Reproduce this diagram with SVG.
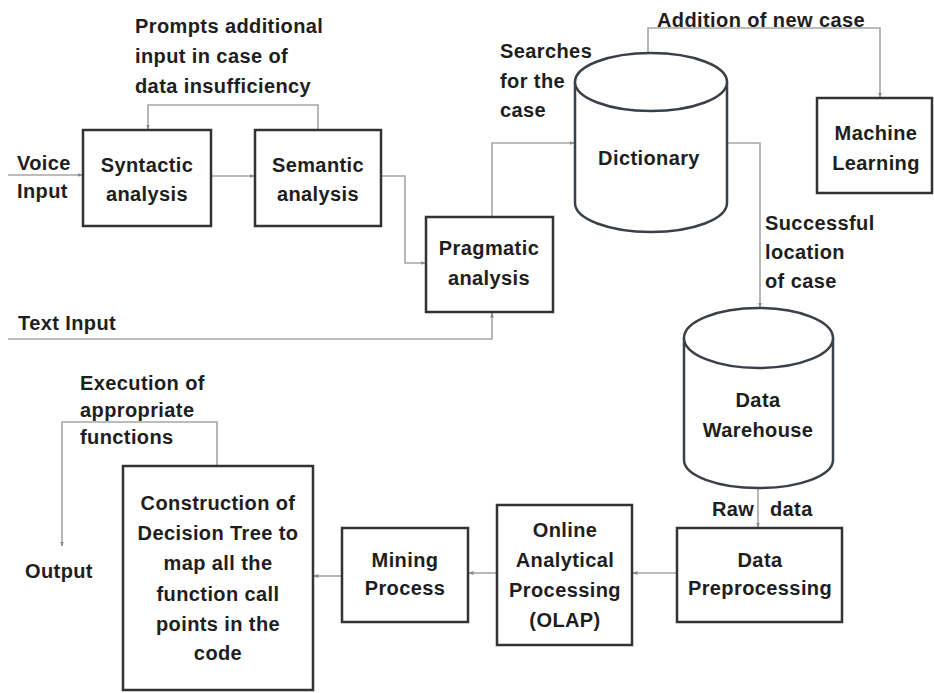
<svg xmlns="http://www.w3.org/2000/svg" width="934" height="693" viewBox="0 0 934 693">
<style>
text{font-family:"Liberation Sans",Arial,sans-serif;font-size:20px;font-weight:bold;fill:#1e1e1e;letter-spacing:0.4px}
.c{text-anchor:middle}
.box{fill:#fff;stroke:#333;stroke-width:2.5}
.cyl{fill:#fff;stroke:#3a3f48;stroke-width:2.5}
.con{fill:none;stroke:#a6a6a6;stroke-width:1.6}
</style>
<defs>
<marker id="ah" viewBox="0 0 10 10" refX="9" refY="5" markerWidth="5" markerHeight="5" orient="auto" markerUnits="userSpaceOnUse">
<path d="M0,1 L10,5 L0,9 z" fill="#8a8a8a"/>
</marker>
</defs>
<rect width="934" height="693" fill="#fff"/>
<g id="connectors">
<path class="con" d="M8,175 H82" marker-end="url(#ah)"/>
<path class="con" d="M211,176 H254" marker-end="url(#ah)"/>
<path class="con" d="M381,176 H405 V263 H425" marker-end="url(#ah)"/>
<path class="con" d="M318,130 V105 H148 V129" marker-end="url(#ah)"/>
<path class="con" d="M8,339 H492 V313" marker-end="url(#ah)"/>
<path class="con" d="M492,217 V143 H574" marker-end="url(#ah)"/>
<path class="con" d="M648,53 V28 H880 V97" marker-end="url(#ah)"/>
<path class="con" d="M727,143 H760 V307" marker-end="url(#ah)"/>
<path class="con" d="M758,488 V527" marker-end="url(#ah)"/>
<path class="con" d="M677,573 H633" marker-end="url(#ah)"/>
<path class="con" d="M497,573 H469" marker-end="url(#ah)"/>
<path class="con" d="M342,576 H314" marker-end="url(#ah)"/>
<path class="con" d="M217,466 V422 H62 V546" marker-end="url(#ah)"/>
</g>
<g id="labels">
<text x="135" y="33">Prompts additional</text>
<text x="135" y="63">input in case of</text>
<text x="135" y="93">data insufficiency</text>
<text x="17" y="170">Voice</text>
<text x="17" y="198">Input</text>
<text x="18" y="330">Text Input</text>
<text x="500" y="58">Searches</text>
<text x="500" y="88">for the</text>
<text x="500" y="117">case</text>
<text x="657" y="27">Addition of new case</text>
<text x="765" y="230">Successful</text>
<text x="765" y="259">location</text>
<text x="765" y="288">of case</text>
<text y="516"><tspan x="712">Raw</tspan><tspan x="764"> data</tspan></text>
<text x="80" y="390">Execution of</text>
<text x="80" y="417">appropriate</text>
<text x="80" y="444">functions</text>
<text x="25" y="578">Output</text>
</g>
<g id="syntactic">
<rect class="box" x="83" y="130" width="128" height="96"/>
<text class="c" x="147" y="172">Syntactic</text>
<text class="c" x="147" y="201">analysis</text>
</g>
<g id="semantic">
<rect class="box" x="255" y="130" width="126" height="96"/>
<text class="c" x="318" y="172">Semantic</text>
<text class="c" x="318" y="201">analysis</text>
</g>
<g id="pragmatic">
<rect class="box" x="426" y="217" width="127" height="95"/>
<text class="c" x="489" y="255">Pragmatic</text>
<text class="c" x="489" y="285">analysis</text>
</g>
<g id="dictionary">
<path class="cyl" d="M575,82 V203 A76,29 0 0 0 727,203 V82"/>
<ellipse class="cyl" cx="651" cy="82" rx="76" ry="29"/>
<text class="c" x="649" y="165">Dictionary</text>
</g>
<g id="machine-learning">
<rect class="box" x="817" y="98" width="115" height="95"/>
<text class="c" x="876" y="140">Machine</text>
<text class="c" x="876" y="170">Learning</text>
</g>
<g id="data-warehouse">
<path class="cyl" d="M684,338 V460 A74.5,28 0 0 0 833,460 V338"/>
<ellipse class="cyl" cx="758.5" cy="338" rx="74.5" ry="30"/>
<text class="c" x="758" y="407">Data</text>
<text class="c" x="758" y="437">Warehouse</text>
</g>
<g id="data-preprocessing">
<rect class="box" x="677" y="528" width="165" height="94"/>
<text class="c" x="760" y="567">Data</text>
<text class="c" x="760" y="595">Preprocessing</text>
</g>
<g id="olap">
<rect class="box" x="497" y="505" width="135" height="140"/>
<text class="c" x="565" y="537">Online</text>
<text class="c" x="565" y="567">Analytical</text>
<text class="c" x="565" y="597">Processing</text>
<text class="c" x="565" y="627">(OLAP)</text>
</g>
<g id="mining">
<rect class="box" x="342" y="528" width="126" height="94"/>
<text class="c" x="405" y="567">Mining</text>
<text class="c" x="405" y="595">Process</text>
</g>
<g id="decision-tree">
<rect class="box" x="123" y="466" width="190" height="224"/>
<text class="c" x="218" y="510">Construction of</text>
<text class="c" x="218" y="540">Decision Tree to</text>
<text class="c" x="218" y="570">map all the</text>
<text class="c" x="218" y="601">function call</text>
<text class="c" x="218" y="631">points in the</text>
<text class="c" x="218" y="660">code</text>
</g>
</svg>
